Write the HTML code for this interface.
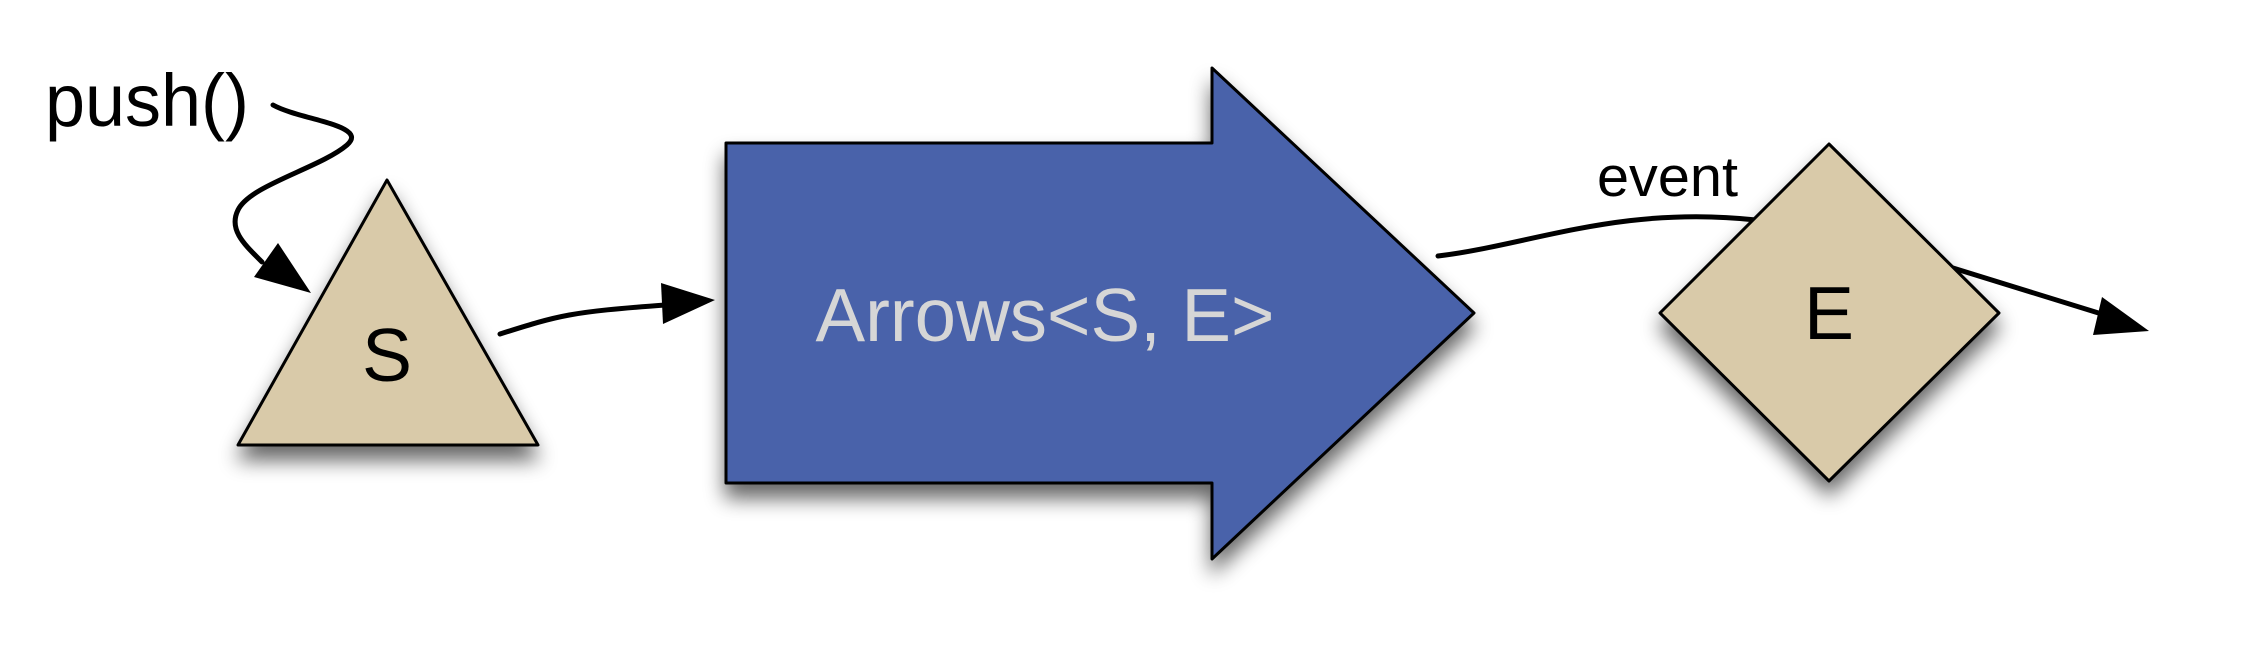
<!DOCTYPE html>
<html><head><meta charset="utf-8"><style>
html,body{margin:0;padding:0;background:#fff;}
svg{display:block;}
text{font-family:"Liberation Sans",sans-serif;}
</style></head><body>
<svg width="2254" height="654" viewBox="0 0 2254 654" xmlns="http://www.w3.org/2000/svg">
<defs>
<filter id="sh" x="-25%" y="-25%" width="150%" height="160%">
<feGaussianBlur in="SourceAlpha" stdDeviation="10"/>
<feOffset dx="0" dy="14" result="b"/>
<feComponentTransfer><feFuncA type="linear" slope="0.6"/></feComponentTransfer>
<feMerge><feMergeNode/><feMergeNode in="SourceGraphic"/></feMerge>
</filter>
</defs>
<!-- connectors behind diamond -->
<path d="M1438,256 C1530,245 1620,205 1756,220" fill="none" stroke="#000" stroke-width="5" stroke-linecap="round"/>
<path d="M1940,264 L2105,315" fill="none" stroke="#000" stroke-width="5"/>
<polygon points="2149,331 2102,297 2093,335" fill="#000"/>
<!-- triangle S -->
<polygon points="387,180 538,445 238,445" fill="#d9caa9" stroke="#000" stroke-width="3" stroke-linejoin="round" filter="url(#sh)"/>
<text x="387" y="381" font-size="75" text-anchor="middle" fill="#000">S</text>
<!-- big arrow -->
<polygon points="726,143 1212,143 1212,68 1474,313 1212,559 1212,483 726,483" fill="#4862aa" stroke="#000" stroke-width="3" stroke-linejoin="round" filter="url(#sh)"/>
<text x="1045" y="341" font-size="75" text-anchor="middle" fill="#d6d6d6" textLength="459" lengthAdjust="spacingAndGlyphs">Arrows&lt;S, E&gt;</text>
<!-- diamond E -->
<polygon points="1829,144 1999,313 1829,481 1660,313" fill="#d9caa9" stroke="#000" stroke-width="3" stroke-linejoin="round" filter="url(#sh)"/>
<text x="1829" y="339" font-size="75" text-anchor="middle" fill="#000">E</text>
<!-- push() -->
<text x="45" y="126" font-size="74" fill="#000" textLength="204" lengthAdjust="spacingAndGlyphs">push()</text>
<path d="M273,105 C300,120 370,125 347,145 C320,168 250,185 238,210 C228,230 245,245 262,262" fill="none" stroke="#000" stroke-width="5" stroke-linecap="round"/>
<polygon points="311,293 254,277 278,243" fill="#000"/>
<!-- S to Arrows -->
<path d="M500,334 C560,315 570,312 665,305" fill="none" stroke="#000" stroke-width="5" stroke-linecap="round"/>
<polygon points="715,300 661,283 663,324" fill="#000"/>
<!-- event label -->
<text x="1597" y="196" font-size="57" fill="#000" textLength="141" lengthAdjust="spacingAndGlyphs">event</text>
</svg>
</body></html>
